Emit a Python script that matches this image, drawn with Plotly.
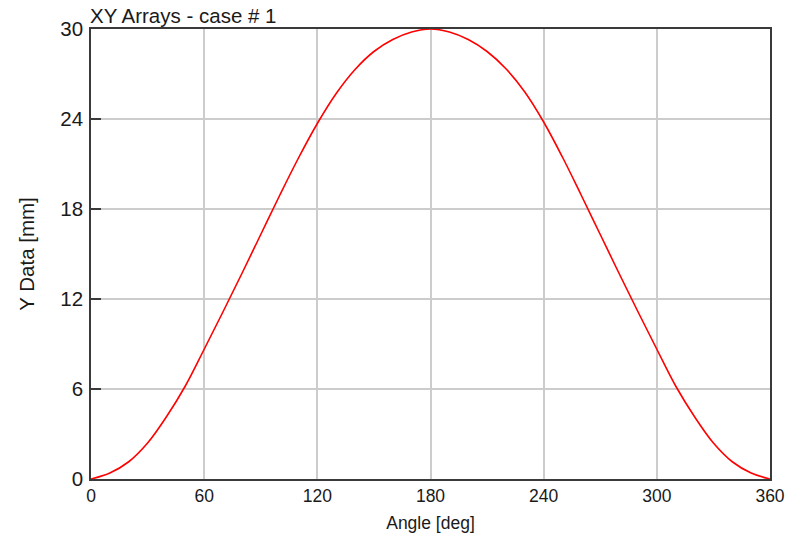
import plotly.graph_objects as go

angle_deg = [0, 10, 20, 30, 40, 50, 60, 70, 80, 90, 100, 110, 120, 130, 140, 150, 160, 170, 180,
             190, 200, 210, 220, 230, 240, 250, 260, 270, 280, 290, 300, 310, 320, 330, 340, 350, 360]
y_data_mm = [0.0, 0.4, 1.15, 2.4, 4.15, 6.2, 8.65, 11.15, 13.7, 16.3, 18.9, 21.4, 23.7, 25.7, 27.3, 28.5, 29.3, 29.8, 30.0,
             29.8, 29.3, 28.5, 27.35, 25.8, 23.8, 21.45, 18.9, 16.3, 13.7, 11.15, 8.65, 6.2, 4.15, 2.4, 1.15, 0.4, 0.0]
x_ticks = [0, 60, 120, 180, 240, 300, 360]
y_ticks = [0, 6, 12, 18, 24, 30]

FONT = "Liberation Sans, Arial, sans-serif"
AX = "#3a3a3a"
GRID = "#cccccc"
TXT = "#1a1a1a"

fig = go.Figure()
fig.add_trace(go.Scatter(x=angle_deg, y=y_data_mm, mode="lines",
                         line=dict(color="#ff0000", width=1.6, shape="spline", smoothing=1.0),
                         showlegend=False, hoverinfo="x+y"))

fig.update_layout(
    width=798, height=537,
    paper_bgcolor="white", plot_bgcolor="white",
    margin=dict(l=91, r=28, t=29, b=58, pad=0, autoexpand=False),
    font=dict(family=FONT, color=TXT),
    title=dict(text="XY Arrays - case # 1", x=90/798, xanchor="left", xref="container",
               y=1 - 16/537, yanchor="middle", yref="container",
               font=dict(size=20.5, family=FONT, color=TXT)),
)
fig.update_xaxes(range=[0, 360], tickvals=x_ticks, ticktext=[str(v) for v in x_ticks],
                 showgrid=True, gridcolor=GRID, gridwidth=1.5,
                 showline=True, linecolor=AX, linewidth=1.6, mirror=True,
                 ticks="", zeroline=False, layer="below traces", automargin=False,
                 tickfont=dict(size=17.5, family=FONT, color=TXT),
                 title=dict(text="Angle [deg]", standoff=12, font=dict(size=17.5, family=FONT, color=TXT)))
fig.update_yaxes(range=[0, 30], tickvals=y_ticks, ticktext=[str(v) for v in y_ticks],
                 showgrid=True, gridcolor=GRID, gridwidth=1.5,
                 showline=True, linecolor=AX, linewidth=1.6, mirror=True,
                 ticks="inside", ticklen=10, tickcolor=AX, tickwidth=1.6,
                 ticklabelstandoff=2, automargin=False,
                 zeroline=False, layer="below traces",
                 tickfont=dict(size=20.5, family=FONT, color=TXT),
                 title=dict(text="Y Data [mm]", standoff=20, font=dict(size=20.5, family=FONT, color=TXT)))

fig.write_html("out.html", config={"displayModeBar": False},
               post_script="document.body.style.margin='0';document.body.style.overflow='hidden';")
